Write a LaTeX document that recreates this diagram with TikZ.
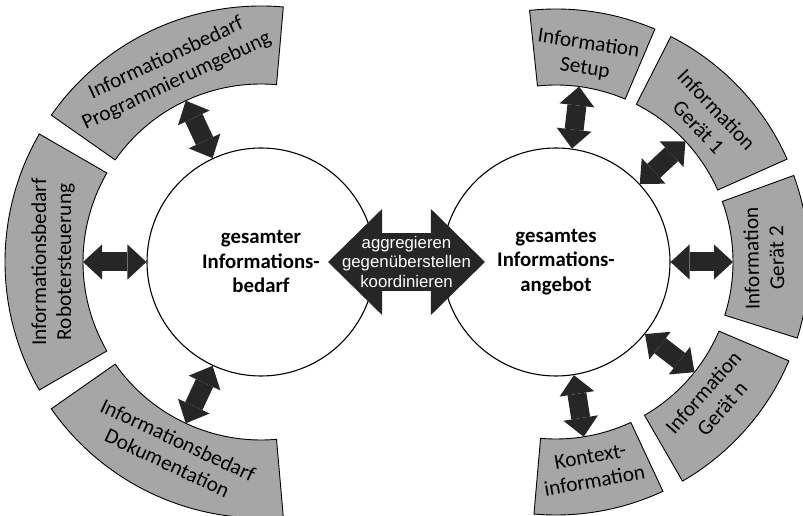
\documentclass[tikz,border=0pt]{standalone}
\usepackage{fontspec}
\setmainfont{Carlito}
\newfontfamily\arrowfont{Liberation Sans}
\usetikzlibrary{arrows.meta,calc}

\definecolor{boxgray}{RGB}{166,166,166}
\definecolor{darkarrow}{RGB}{38,38,38}

\begin{document}
\begin{tikzpicture}[x=1pt,y=1pt,
  seg/.style={draw=black, line width=0.9pt, fill=boxgray},
  segtext/.style={align=center, inner sep=0pt,
    font=\fontsize{21.3}{25}\selectfont},
  hub/.style={circle, draw, line width=1.1pt, fill=white,
    minimum size=228pt, align=center,
    font=\fontsize{20.8}{24.5}\selectfont\bfseries},
  link/.style={darkarrow, line width=19pt,
    {Triangle[length=19pt,width=35pt,line width=0pt]}-{Triangle[length=19pt,width=35pt,line width=0pt]}},
  bigarrow/.style={darkarrow, line width=58pt,
    {Triangle[length=54pt,width=106pt,line width=0pt]}-{Triangle[length=54pt,width=106pt,line width=0pt]}}
]
\useasboundingbox (0,0) rectangle (803,516);

\coordinate (L) at (261,254);
\coordinate (R) at (556,254);

% ring of information needs
\draw[seg] ($(L)+(85:178)$) arc[start angle=85, end angle=145, radius=178]
  -- ($(L)+(145:256)$) arc[start angle=145, end angle=85, radius=256] -- cycle;
\draw[seg] ($(L)+(150:178)$) arc[start angle=150, end angle=210, radius=178]
  -- ($(L)+(210:256)$) arc[start angle=210, end angle=150, radius=256] -- cycle;
\draw[seg] ($(L)+(215:178)$) arc[start angle=215, end angle=275, radius=178]
  -- ($(L)+(275:256)$) arc[start angle=275, end angle=215, radius=256] -- cycle;

\node (prog) [segtext, rotate=25] at ($(L)+(115:212)$)
  {Informationsbedarf\\Programmierumgebung};
\node (robot) [segtext, rotate=90] at ($(L)+(180:208)$)
  {Informationsbedarf\\Robotersteuerung};
\node (doku) [segtext, rotate=-25] at ($(L)+(245:209)$)
  {Informationsbedarf\\Dokumentation};

% ring of information sources
\draw[seg] ($(R)+(67:177)$) arc[start angle=67, end angle=96, radius=177]
  -- ($(R)+(96:253)$) arc[start angle=96, end angle=67, radius=253] -- cycle;
\draw[seg] ($(R)+(24:177)$) arc[start angle=24, end angle=63, radius=177]
  -- ($(R)+(63:253)$) arc[start angle=63, end angle=24, radius=253] -- cycle;
\draw[seg] ($(R)+(-17.5:177)$) arc[start angle=-17.5, end angle=20, radius=177]
  -- ($(R)+(20:253)$) arc[start angle=20, end angle=-17.5, radius=253] -- cycle;
\draw[seg] ($(R)+(-60:177)$) arc[start angle=-60, end angle=-23, radius=177]
  -- ($(R)+(-23:253)$) arc[start angle=-23, end angle=-60, radius=253] -- cycle;
\draw[seg] ($(R)+(-95:177)$) arc[start angle=-95, end angle=-65, radius=177]
  -- ($(R)+(-65:253)$) arc[start angle=-65, end angle=-95, radius=253] -- cycle;

\node (setup) [segtext, rotate=-8.5] at ($(R)+(81.5:208)$)
  {Information\\Setup};
\node (geraet1) [segtext, rotate=-46.5] at ($(R)+(43.5:209)$)
  {Information\\Gerät 1};
\node (geraet2) [segtext, rotate=91] at ($(R)+(1:208)$)
  {Information\\Gerät 2};
\node (geraetn) [segtext, rotate=48.5] at ($(R)+(-41.5:209)$)
  {Information\\Gerät n};
\node (kontext) [segtext, rotate=10] at ($(R)+(-80:210)$)
  {Kontext-\\information};

% the two hubs
\node (bedarf) [hub] at (L) {gesamter\\Informations-\\bedarf};
\node (angebot) [hub] at (R) {gesamtes\\Informations-\\angebot};

% inner ends of the links
\coordinate (prog-in) at ($(L)+(115:178)$);
\coordinate (robot-in) at ($(L)+(180:178)$);
\coordinate (doku-in) at ($(L)+(245:178)$);
\coordinate (setup-in) at ($(R)+(82.5:177)$);
\coordinate (geraet1-in) at ($(R)+(43:177)$);
\coordinate (geraet2-in) at ($(R)+(0:177)$);
\coordinate (geraetn-in) at ($(R)+(-38.5:177)$);
\coordinate (kontext-in) at ($(R)+(-81:177)$);

\draw[link] (bedarf.115) -- (prog-in);
\draw[link] (bedarf.180) -- (robot-in);
\draw[link] (bedarf.245) -- (doku-in);
\draw[link] (angebot.82.5) -- (setup-in);
\draw[link] (angebot.43) -- (geraet1-in);
\draw[link] (angebot.0) -- (geraet2-in);
\draw[link] (angebot.321.5) -- (geraetn-in);
\draw[link] (angebot.279) -- (kontext-in);

\draw[bigarrow, shorten <=-47.5pt, shorten >=-43.5pt] (bedarf.east) --
  node (verbs) [text=white, align=center, inner sep=0pt,
    font=\arrowfont\fontsize{16.8}{19.5}\selectfont, xshift=-2pt]
  {aggregieren\\gegenüberstellen\\koordinieren} (angebot.west);
\end{tikzpicture}
\end{document}
